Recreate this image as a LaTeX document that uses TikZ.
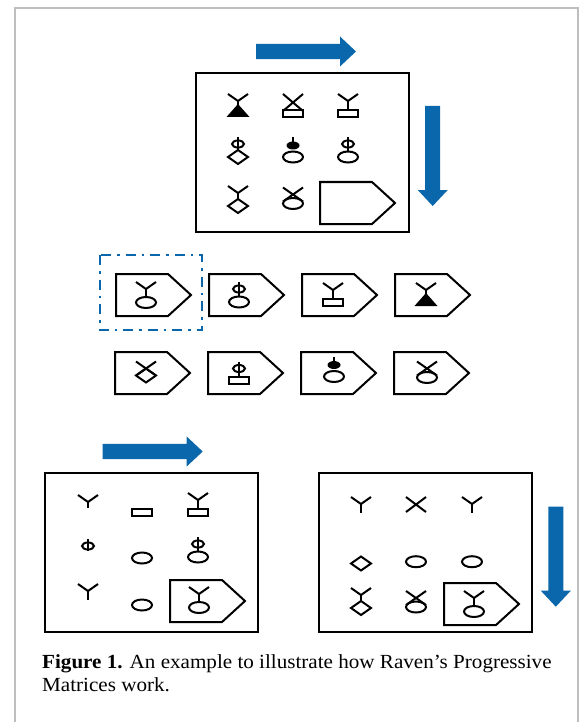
\documentclass[tikz,border=0pt]{standalone}
\usepackage{fontspec}
\setmainfont{Liberation Serif}
\newfontfamily\capfont[FakeStretch=1.055]{Liberation Serif}
\definecolor{rpmblue}{RGB}{11,103,171}
\definecolor{framegray}{RGB}{190,190,190}
\tikzset{
  gl/.style={line width=2pt, line join=miter},
  stem/.style={line width=2.6pt},
  boxl/.style={line width=2.4pt},
  pentl/.style={line width=2pt, line join=miter},
  captext/.style={anchor=base west, inner sep=0, font=\capfont\fontsize{20}{23}\selectfont},
  pics/yarms/.style={code={\draw[gl] (-10,0)--(0,7)--(10,0); \draw[stem] (0,6)--(0,#1);}},
  pics/xmark/.style={code={\draw[gl] (-10,0)--(10,#1) (10,0)--(-10,#1);}},
  pics/rectb/.style={code={\draw[gl] (-10,#1) rectangle (10,{#1+7});}},
  pics/ellb/.style={code={\draw[gl] (0,#1) ellipse [x radius=10pt, y radius=5.5pt];}},
  pics/dia/.style={code={\draw[gl] (0,{#1-7})--(10,#1)--(0,{#1+7})--(-10,#1)--cycle;}},
  pics/phi/.style={code={\draw[gl] (0,0)--(0,#1); \draw[gl] (0,7) ellipse [x radius=6pt, y radius=3.5pt];}},
  pics/fell/.style={code={\draw[stem] (0,0)--(0,5); \fill (0,8.5) ellipse [x radius=6.5pt, y radius=4pt];}},
  pics/tri/.style={code={\draw[stem] (0,7)--(0,12); \fill (0,10)--(11.5,23)--(-11.5,23)--cycle;}},
  pics/YT/.style={code={\pic {yarms=12}; \pic {tri};}},
  pics/XR/.style={code={\pic {xmark=17}; \pic {rectb=16};}},
  pics/YR/.style={code={\pic {yarms=16}; \pic {rectb=16};}},
  pics/PhiD/.style={code={\pic {phi=13}; \pic {dia=20};}},
  pics/FE/.style={code={\pic {fell}; \pic {ellb=20};}},
  pics/PhiE/.style={code={\pic {phi=14.5}; \pic {ellb=20};}},
  pics/PhiR/.style={code={\pic {phi=15}; \pic {rectb=15};}},
  pics/YD/.style={code={\pic {yarms=13}; \pic {dia=20};}},
  pics/XE/.style={code={\pic {xmark=14}; \pic {ellb=16};}},
  pics/XD/.style={code={\pic {xmark=14}; \pic {dia=14};}},
  pics/YE/.style={code={\pic {yarms=15}; \pic {ellb=20.5};}},
  pics/penta/.style={code={\draw[pentl] (0,0)--(52,0)--(75,21)--(52,42)--(0,42)--cycle;}},
  pics/rarr/.style={code={\fill[rpmblue] (0,-7.7)--(84,-7.7)--(84,-15)--(100,0)--(84,15)--(84,7.7)--(0,7.7)--cycle;}},
  pics/darr/.style={code={\fill[rpmblue] (-7.5,0)--(7.5,0)--(7.5,84)--(15,84)--(0,100)--(-15,84)--(-7.5,84)--cycle;}},
}
\begin{document}
\begin{tikzpicture}[x=1pt,y=-1pt]
\useasboundingbox (0,0) rectangle (584,722);
% outer frame
\draw[framegray, line width=1.3pt] (15,722) -- (15,8) -- (578,8) -- (578,722);

% ---------- top matrix ----------
\pic at (256,51.5) {rarr};
\pic at (432.7,106) {darr};
\draw[boxl] (196,73) rectangle (409,232);
\pic at (238,94) {YT};
\pic at (293,94) {XR};
\pic at (348,94) {YR};
\pic at (238,137) {PhiD};
\pic at (293,137) {FE};
\pic at (348,137) {PhiE};
\pic at (238,186) {YD};
\pic at (293,187.5) {XE};
\pic at (320,182) {penta};

% ---------- answers row 1 ----------
\draw[rpmblue, line width=2.6pt, dash pattern=on 10pt off 6pt on 2.5pt off 6pt] (100,255) rectangle (202,330);
\pic at (116,274) {penta};
\pic at (209,274) {penta};
\pic at (302,274) {penta};
\pic at (395,274) {penta};
\pic at (146,282) {YE};
\pic at (239,282) {PhiE};
\pic at (333,283) {YR};
\pic at (426,283) {YT};

% ---------- answers row 2 ----------
\pic at (115,352) {penta};
\pic at (208,352) {penta};
\pic at (301,352) {penta};
\pic at (394,352) {penta};
\pic at (146,361.5) {XD};
\pic at (239,361.5) {PhiR};
\pic at (334,356.5) {FE};
\pic at (427,361.5) {XE};

% ---------- bottom left matrix ----------
\pic at (102.7,451.5) {rarr};
\draw[boxl] (45,473) rectangle (258,632);
\pic at (88,495) {yarms=13};
\draw[gl] (132,508.5) rectangle (152,515.5);
\pic at (198,493) {YR};
\pic at (88,539) {phi=12};
\draw[gl] (142,558) ellipse [x radius=10pt, y radius=5.5pt];
\pic at (198,537) {PhiE};
\pic at (88,584) {yarms=16};
\draw[gl] (142,605) ellipse [x radius=10pt, y radius=5.5pt];
\pic at (170,580) {penta};
\pic at (199,587) {YE};

% ---------- bottom right matrix ----------
\pic at (555.8,506.7) {darr};
\draw[boxl] (319,473) rectangle (532,632);
\pic at (361,497) {yarms=16};
\pic at (416,497) {xmark=15};
\pic at (472,497) {yarms=16};
\pic at (361,563.5) {dia=0};
\draw[gl] (416,561.7) ellipse [x radius=10pt, y radius=5.5pt];
\draw[gl] (472,561.7) ellipse [x radius=10pt, y radius=5.5pt];
\pic at (361,588) {YD};
\pic at (416,591) {XE};
\pic at (444,583) {penta};
\pic at (474,591) {YE};

% ---------- caption ----------
\node[captext] (cap1) at (42,668) {\textbf{Figure 1.} An example to illustrate how Raven’s Progressive};
\node[captext] (cap2) at (42,691) {Matrices work.};
\end{tikzpicture}
\end{document}
